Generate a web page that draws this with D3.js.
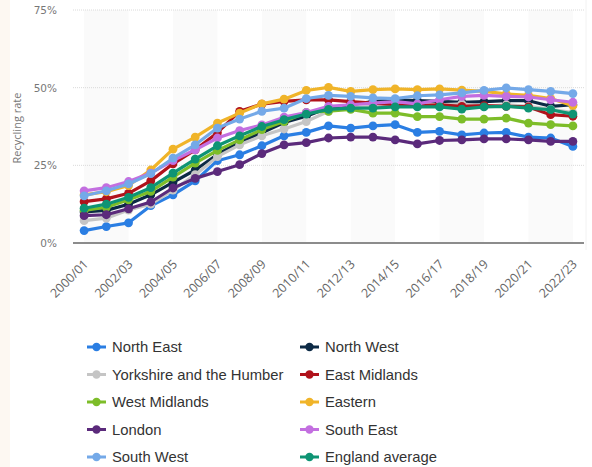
<!DOCTYPE html>
<html><head><meta charset="utf-8">
<script src="https://cdn.jsdelivr.net/npm/d3@7"></script>
<style>
html,body{margin:0;padding:0;background:#fff;}
svg{display:block;font-family:"Liberation Sans",Arial,sans-serif;}
</style></head>
<body>
<svg id="chart" width="592" height="467"></svg>
<script>
const years = ["2000/01","2001/02","2002/03","2003/04","2004/05","2005/06","2006/07","2007/08","2008/09","2009/10","2010/11","2011/12","2012/13","2013/14","2014/15","2015/16","2016/17","2017/18","2018/19","2019/20","2020/21","2021/22","2022/23"];
const yTicks = [0, 25, 50, 75];

const northEast = [4.0,5.3,6.5,12.0,15.5,20.0,26.5,28.4,31.3,34.5,35.6,37.7,37.0,37.7,38.1,35.6,35.9,34.8,35.4,35.6,34.1,33.8,31.1];
const northWest = [10.0,10.5,12.5,15.5,19.5,23.5,28.5,32.5,35.5,38.8,40.8,43.5,44.5,45.5,46.1,45.8,45.6,45.3,45.5,45.8,45.8,44.0,44.5];
const yorkshire = [7.2,8.0,10.6,12.5,17.0,22.0,27.8,31.6,34.5,36.7,39.1,42.4,43.5,44.0,44.5,44.5,44.5,44.8,44.0,44.5,44.0,43.0,42.0];
const eastMidlands = [13.3,14.2,16.0,20.0,25.5,30.0,35.5,42.4,44.7,45.6,46.1,46.1,45.5,45.0,44.5,44.2,44.5,44.0,44.2,44.0,43.8,41.3,40.8];
const westMidlands = [10.5,11.5,13.9,16.6,21.2,25.7,29.8,33.2,36.5,39.1,42.0,42.4,43.0,41.8,41.8,40.7,40.7,39.9,39.9,40.2,38.6,38.1,37.7];
const eastern = [15.5,16.5,18.5,23.5,30.2,34.1,38.6,41.8,44.8,46.3,49.1,50.1,48.8,49.4,49.6,49.4,49.6,49.2,48.8,48.0,47.5,46.5,44.2];
const london = [8.8,9.1,11.0,13.2,17.7,20.8,23.0,25.2,28.8,31.6,32.3,33.8,34.1,34.1,33.2,31.9,33.0,33.2,33.5,33.5,33.2,32.7,32.7];
const southEast = [16.8,17.8,19.8,22.5,26.5,30.0,33.8,36.2,38.0,40.5,42.0,44.0,44.5,45.0,45.5,44.8,46.1,47.2,47.5,47.2,47.0,46.1,45.3];
const southWest = [15.2,16.8,19.0,22.3,27.3,31.6,37.0,39.9,42.4,43.4,46.5,47.5,47.2,46.7,46.5,47.4,47.7,48.3,49.1,49.9,49.4,48.8,48.1];
const englandAvg = [11.2,12.5,14.7,17.8,22.5,27.0,31.3,34.5,37.5,39.7,41.5,43.0,43.4,43.4,43.8,43.8,43.8,43.1,43.8,44.0,43.4,42.9,41.5];

const seriesNames = ["North East","North West","Yorkshire and the Humber","East Midlands","West Midlands","Eastern","London","South East","South West","England average"];
const seriesValues = [northEast,northWest,yorkshire,eastMidlands,westMidlands,eastern,london,southEast,southWest,englandAvg];
const seriesColors = ["#2a7ee3","#0c2a45","#c5c5c5","#b0121b","#7dbd29","#f0b429","#5b2a7b","#c36fe0","#74a9e8","#0e9474"];

const svg = d3.select("#chart");
const plot = {left:73, right:584, top:10, bottom:243};

// left beige strip
svg.append("rect").attr("x",0).attr("y",0).attr("width",10).attr("height",467).attr("fill","#fdf8f2");

const x = d3.scaleBand().domain(years).range([plot.left, plot.right]).padding(0);
const xc = d => x(d) + x.bandwidth()/2;
const y = d3.scaleLinear().domain([0,75]).range([plot.bottom, plot.top]);

// alternating bands
years.forEach((yr,i) => {
  if (i % 4 === 0 && i+2 < years.length) {
    svg.append("rect").attr("x", xc(yr)).attr("y", plot.top)
      .attr("width", xc(years[i+2]) - xc(yr)).attr("height", plot.bottom - plot.top)
      .attr("fill", "#fafafa");
  }
});
// right edge faint line
svg.append("line").attr("x1",586).attr("x2",586).attr("y1",0).attr("y2",250).attr("stroke","#f2f2f2").attr("stroke-width",1);

// gridlines
svg.append("g").selectAll("line").data(yTicks.filter(t=>t>0)).join("line")
  .attr("x1", plot.left).attr("x2", plot.right)
  .attr("y1", d=>y(d)).attr("y2", d=>y(d))
  .attr("stroke", "#dadada").attr("stroke-width", 1).attr("stroke-dasharray", "1,1");

// y axis labels
const yAxis = d3.axisLeft(y).tickValues(yTicks).tickFormat(d=>d+"%").tickSize(0).tickPadding(0);
const gy = svg.append("g").attr("transform", `translate(57,0)`).call(yAxis);
gy.select(".domain").remove();
gy.selectAll("text").attr("font-size", 10.5).attr("fill", "#777").attr("font-family","\"DejaVu Sans\",sans-serif");

svg.append("text").attr("transform", "translate(21,128) rotate(-90)")
  .attr("text-anchor","middle").attr("font-size", 11).attr("fill","#777")
  .attr("font-family","\"Open Sans\",sans-serif")
  .text("Recycling rate");

// x axis
const xAxis = d3.axisBottom(x).tickValues(years.filter((d,i)=>i%2===0)).tickSize(0).tickPadding(0);
const gx = svg.append("g").attr("transform", `translate(0,${plot.bottom})`).call(xAxis);
gx.select(".domain").remove();
gx.selectAll("text")
  .attr("font-size", 12.5).attr("fill","#666").attr("font-family","\"Open Sans\",sans-serif")
  .attr("text-anchor","end").attr("dy", null).attr("y", null)
  .attr("transform", "translate(5,22) rotate(-45)");

svg.append("line").attr("x1", plot.left).attr("x2", plot.right)
  .attr("y1", plot.bottom).attr("y2", plot.bottom)
  .attr("stroke", "#8c8c8c").attr("stroke-width", 2);

// lines
const line = d3.line().x((d,i)=>xc(years[i])).y(d=>y(d));
const gl = svg.append("g");
seriesValues.forEach((vals, s) => {
  const g = gl.append("g");
  g.append("path").datum(vals).attr("d", line).attr("fill","none")
    .attr("stroke", seriesColors[s]).attr("stroke-width", 3.2).attr("stroke-linejoin","round");
  g.selectAll("circle").data(vals).join("circle")
    .attr("cx", (d,i)=>xc(years[i])).attr("cy", d=>y(d)).attr("r", 4.4)
    .attr("fill", seriesColors[s]);
});

// legend
const legX = [87, 300];
const legY0 = 347, legDy = 27.5;
const lg = svg.append("g");
seriesNames.forEach((name, i) => {
  const col = i % 2, row = Math.floor(i/2);
  const gx0 = legX[col], gy0 = legY0 + row*legDy;
  lg.append("line").attr("x1", gx0).attr("x2", gx0+19).attr("y1", gy0).attr("y2", gy0)
    .attr("stroke", seriesColors[i]).attr("stroke-width", 3);
  lg.append("circle").attr("cx", gx0+9.5).attr("cy", gy0).attr("r", 4.2).attr("fill", seriesColors[i]);
  lg.append("text").attr("x", gx0+25).attr("y", gy0).attr("dy","0.36em")
    .attr("font-size", 14.8).attr("fill","#333").attr("font-family","\"Liberation Sans\",Arial,sans-serif")
    .text(name);
});
</script>
</body></html>
